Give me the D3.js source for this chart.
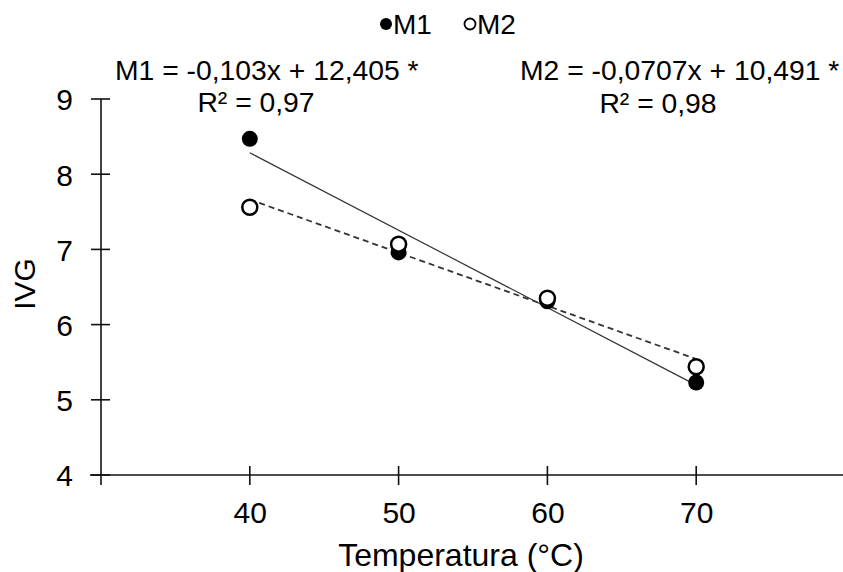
<!DOCTYPE html>
<html><head><meta charset="utf-8">
<script src="https://cdn.jsdelivr.net/npm/d3@7"></script>
<style>
html,body{margin:0;padding:0;background:#fff;}
svg{display:block;font-family:"Liberation Sans",Arial,sans-serif;}
</style></head>
<body>
<svg id="c" width="843" height="572"></svg>
<script>
const temps = [40, 50, 60, 70];
const m1Values = [8.47, 6.96, 6.31, 5.23];
const m2Values = [7.56, 7.07, 6.35, 5.44];
const seriesNames = ["M1", "M2"];
const slopes = [-0.103, -0.0707];
const intercepts = [12.405, 10.491];
const eqLabels = ["M1 = -0,103x + 12,405 *", "M2 = -0,0707x + 10,491 *"];
const r2Labels = ["R² = 0,97", "R² = 0,98"];
const yTicks = [4, 5, 6, 7, 8, 9];
const xTicks = [40, 50, 60, 70];

const svg = d3.select("#c");
const x = d3.scaleLinear().domain([30, 80]).range([101, 845]);
const y = d3.scaleLinear().domain([4, 9]).range([475, 99]);

// axes
const xAxis = svg.append("g").attr("transform", `translate(0,${y(4)})`)
  .call(d3.axisBottom(x).tickValues(xTicks).tickSize(0).tickPadding(0).tickFormat(d3.format("d")));
xAxis.select(".domain").remove();
xAxis.selectAll("text").attr("font-size", 30).attr("fill", "#000").attr("dy", null).attr("y", 48);
svg.append("line").attr("x1", 90).attr("x2", 843).attr("y1", y(4)).attr("y2", y(4))
  .attr("stroke", "#111").attr("stroke-width", 1.6);
svg.selectAll(".xt").data(xTicks).enter().append("line")
  .attr("x1", d => x(d)).attr("x2", d => x(d)).attr("y1", y(4) - 9).attr("y2", y(4) + 10)
  .attr("stroke", "#111").attr("stroke-width", 1.6);

const yAxis = svg.append("g").attr("transform", `translate(${x(30)},0)`)
  .call(d3.axisLeft(y).tickValues(yTicks).tickSize(0).tickPadding(0).tickFormat(d3.format("d")));
yAxis.select(".domain").remove();
yAxis.selectAll("text").attr("font-size", 30).attr("fill", "#000").attr("x", -28).attr("dy", "0.36em");
svg.append("line").attr("x1", x(30)).attr("x2", x(30)).attr("y1", y(9)).attr("y2", y(4) + 10)
  .attr("stroke", "#111").attr("stroke-width", 1.6);
svg.selectAll(".yt").data(yTicks).enter().append("line")
  .attr("x1", x(30) - 10).attr("x2", x(30) + 9).attr("y1", d => y(d)).attr("y2", d => y(d))
  .attr("stroke", "#111").attr("stroke-width", 1.6);

// axis titles
svg.append("text").attr("x", 461).attr("y", 566).attr("text-anchor", "middle")
  .attr("font-size", 32).text("Temperatura (°C)");
svg.append("text").attr("transform", "translate(35,284) rotate(-90)").attr("text-anchor", "middle")
  .attr("font-size", 30).text("IVG");

// trend lines
const xmin = d3.min(temps), xmax = d3.max(temps);
svg.append("line")
  .attr("x1", x(xmin)).attr("y1", y(slopes[0] * xmin + intercepts[0]))
  .attr("x2", x(xmax)).attr("y2", y(slopes[0] * xmax + intercepts[0]))
  .attr("stroke", "#333").attr("stroke-width", 1.2);
svg.append("line")
  .attr("x1", x(xmin)).attr("y1", y(slopes[1] * xmin + intercepts[1]))
  .attr("x2", x(xmax)).attr("y2", y(slopes[1] * xmax + intercepts[1]))
  .attr("stroke", "#333").attr("stroke-width", 1.8).attr("stroke-dasharray", "6,4");

// markers
svg.selectAll(".m1").data(temps.map((t, i) => [t, m1Values[i]])).enter().append("circle")
  .attr("cx", d => x(d[0])).attr("cy", d => y(d[1])).attr("r", 8).attr("fill", "#000");
svg.selectAll(".m2").data(temps.map((t, i) => [t, m2Values[i]])).enter().append("circle")
  .attr("cx", d => x(d[0])).attr("cy", d => y(d[1])).attr("r", 7.5)
  .attr("fill", "#fff").attr("stroke", "#000").attr("stroke-width", 2.5);

// equations
svg.append("text").attr("x", 115).attr("y", 80).attr("font-size", 28.3).text(eqLabels[0]);
svg.append("text").attr("x", 256).attr("y", 112).attr("text-anchor", "middle").attr("font-size", 28.3).text(r2Labels[0]);
svg.append("text").attr("x", 520).attr("y", 80).attr("font-size", 28.3).text(eqLabels[1]);
svg.append("text").attr("x", 658).attr("y", 113).attr("text-anchor", "middle").attr("font-size", 28.3).text(r2Labels[1]);

// legend
const lg = svg.append("g");
lg.append("circle").attr("cx", 386).attr("cy", 24).attr("r", 6).attr("fill", "#000");
lg.append("text").attr("x", 393).attr("y", 34).attr("font-size", 28).text(seriesNames[0]);
lg.append("circle").attr("cx", 470).attr("cy", 24).attr("r", 5.5).attr("fill", "#fff").attr("stroke", "#000").attr("stroke-width", 1.8);
lg.append("text").attr("x", 477).attr("y", 34).attr("font-size", 28).text(seriesNames[1]);
</script>
</body></html>
